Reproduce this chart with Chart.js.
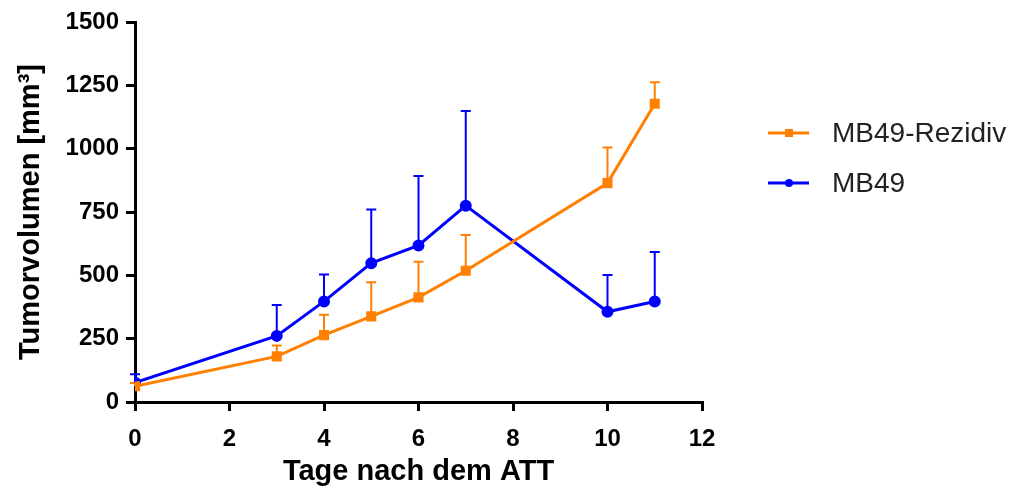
<!DOCTYPE html>
<html>
<head>
<meta charset="utf-8">
<script src="https://cdn.jsdelivr.net/npm/chart.js@4"></script>
<style>
  html, body { margin: 0; padding: 0; background: #fff; }
  #wrap { width: 1024px; height: 491px; }
</style>
</head>
<body>
<div id="wrap"><canvas id="chart1" width="1024" height="491"></canvas></div>
<script>
// Tage nach dem ATT
const tage = [0, 3, 4, 5, 6, 7, 10, 11];

// MB49-Rezidiv: Mittelwert und oberer Fehlerbalken
const rezidivMittel = [62, 180, 264, 338, 413, 518, 864, 1177];
const rezidivOben   = [75, 223, 344, 473, 554, 659, 1005, 1262];

// MB49
const mb49Mittel = [77, 261, 397, 548, 618, 775, 356, 397];
const mb49Oben   = [110, 383, 503, 760, 892, 1149, 501, 592];

const yTicks = [0, 250, 500, 750, 1000, 1250, 1500];
const xTicks = [0, 2, 4, 6, 8, 10, 12];

const orange = '#ff8000';
const blau = '#0000ff';

function toPoints(xs, ys) {
    return xs.map((x, i) => ({ x: x, y: ys[i] }));
}

// Fehlerbalken nur nach oben, wie im Original
const errorBars = {
    id: 'errorBars',
    beforeDatasetsDraw(chart) {
        const ctx = chart.ctx;
        const yScale = chart.scales.y;
        chart.data.datasets.forEach((ds, i) => {
            const meta = chart.getDatasetMeta(i);
            ctx.save();
            ctx.strokeStyle = ds.borderColor;
            ctx.lineWidth = 2;
            meta.data.forEach((pt, j) => {
                const yTop = yScale.getPixelForValue(ds.errUp[j]);
                ctx.beginPath();
                ctx.moveTo(pt.x, pt.y);
                ctx.lineTo(pt.x, yTop);
                ctx.moveTo(pt.x - 5, yTop);
                ctx.lineTo(pt.x + 5, yTop);
                ctx.stroke();
            });
            ctx.restore();
        });
    }
};

// Legende rechts neben dem Diagramm
const sideLegend = {
    id: 'sideLegend',
    afterDraw(chart) {
        const ctx = chart.ctx;
        const x0 = 768;
        const rowY = [133, 183];
        chart.data.datasets.forEach((ds, i) => {
            const y = rowY[i];
            ctx.save();
            ctx.strokeStyle = ds.borderColor;
            ctx.fillStyle = ds.borderColor;
            ctx.lineWidth = 3;
            ctx.beginPath();
            ctx.moveTo(x0, y);
            ctx.lineTo(x0 + 41, y);
            ctx.stroke();
            if (ds.pointStyle === 'rect') {
                ctx.fillRect(x0 + 17, y - 4, 8, 8);
            } else {
                ctx.beginPath();
                ctx.arc(x0 + 21, y, 4, 0, Math.PI * 2);
                ctx.fill();
            }
            ctx.fillStyle = '#222';
            ctx.font = '28px "Liberation Sans", Arial, sans-serif';
            ctx.textBaseline = 'middle';
            ctx.fillText(ds.label, 832, y + 1);
            ctx.restore();
        });
    }
};

const tickFont = { family: '"Liberation Sans", Arial, sans-serif', size: 24, weight: 'bold' };
const titleFont = { family: '"Liberation Sans", Arial, sans-serif', size: 29, weight: 'bold' };

const ctx = document.getElementById('chart1').getContext('2d');
const myChart = new Chart(ctx, {
    type: 'line',
    data: {
        datasets: [{
            label: 'MB49-Rezidiv',
            data: toPoints(tage, rezidivMittel),
            errUp: rezidivOben,
            borderColor: orange,
            backgroundColor: orange,
            borderWidth: 3,
            pointStyle: 'rect',
            pointRadius: 5,
            pointHoverRadius: 5,
            tension: 0
        }, {
            label: 'MB49',
            data: toPoints(tage, mb49Mittel),
            errUp: mb49Oben,
            borderColor: blau,
            backgroundColor: blau,
            borderWidth: 3,
            pointStyle: 'circle',
            pointRadius: 4.5,
            pointHoverRadius: 4.5,
            tension: 0
        }]
    },
    options: {
        responsive: false,
        animation: false,
        events: [],
        layout: {
            padding: { left: 0, top: 22, right: 322, bottom: 0 }
        },
        plugins: {
            legend: { display: false },
            tooltip: { enabled: false }
        },
        scales: {
            x: {
                type: 'linear',
                min: 0,
                max: 12,
                afterBuildTicks: axis => { axis.ticks = xTicks.map(v => ({ value: v })); },
                afterFit: axis => { axis.height = 89; },
                border: { color: '#000', width: 3 },
                grid: { drawOnChartArea: false, color: '#000', lineWidth: 3, tickLength: 9 },
                ticks: {
                    color: '#000',
                    padding: 14,
                    callback: v => String(v),
                    font: tickFont
                },
                title: {
                    display: true,
                    text: 'Tage nach dem ATT',
                    color: '#000',
                    padding: { top: 2, bottom: 2 },
                    font: titleFont
                }
            },
            y: {
                type: 'linear',
                min: 0,
                max: 1500,
                afterBuildTicks: axis => { axis.ticks = yTicks.map(v => ({ value: v })); },
                afterFit: axis => { axis.width = 135; },
                border: { color: '#000', width: 3 },
                grid: { drawOnChartArea: false, color: '#000', lineWidth: 3, tickLength: 9 },
                ticks: {
                    color: '#000',
                    padding: 7,
                    callback: v => String(v),
                    font: tickFont
                },
                title: {
                    display: true,
                    text: 'Tumorvolumen [mm³]',
                    color: '#000',
                    padding: { top: 14, bottom: 0 },
                    font: titleFont
                }
            }
        }
    },
    plugins: [errorBars, sideLegend]
});
</script>
</body>
</html>
